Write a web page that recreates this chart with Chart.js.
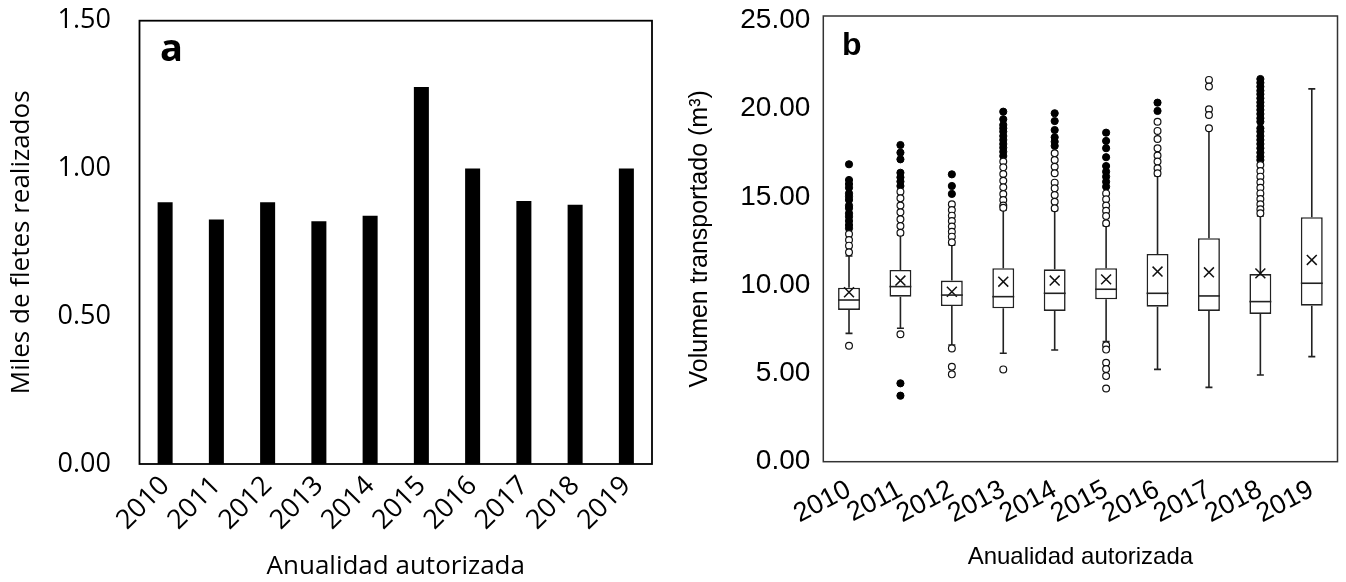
<!DOCTYPE html>
<html>
<head>
<meta charset="utf-8">
<script src="https://cdn.jsdelivr.net/npm/chart.js@4.4.1/dist/chart.umd.min.js"></script>
<style>
  html, body { margin: 0; padding: 0; background: #fff; }
  body { width: 1346px; height: 582px; position: relative; overflow: hidden; }
  canvas { position: absolute; top: 0; }
  #chart-a { left: 0; }
  #chart-b { left: 670px; }
</style>
</head>
<body>
<canvas id="chart-a" width="670" height="582"></canvas>
<canvas id="chart-b" width="676" height="582"></canvas>
<script>
const YEARS = ["2010", "2011", "2012", "2013", "2014", "2015", "2016", "2017", "2018", "2019"];

// panel a: thousands of trips
const TRIPS = [0.886, 0.827, 0.886, 0.821, 0.84, 1.276, 1.0, 0.89, 0.877, 1.0];
const TICKS_A = [0, 0.5, 1, 1.5];

// panel b: box plot stats per year (m3)
const WHISKER_LOW = [7.27, 7.56, 6.61, 6.14, 6.33, 6.8, 5.23, 4.21, 4.91, 5.95];
const Q1 = [8.6, 9.35, 8.82, 8.69, 8.54, 9.2, 8.78, 8.54, 8.37, 8.84];
const MEDIAN = [9.16, 9.92, 9.44, 9.35, 9.54, 9.77, 9.54, 9.39, 9.07, 10.11];
const Q3 = [9.86, 10.86, 10.26, 10.96, 10.9, 10.96, 11.77, 12.66, 10.63, 13.85];
const WHISKER_HIGH = [11.65, 12.85, 12.28, 14.26, 14.24, 13.37, 16.2, 18.83, 13.92, 21.12];
const MEAN = [9.6, 10.26, 9.63, 10.2, 10.26, 10.33, 10.77, 10.73, 10.67, 11.43];
const TICKS_B = [0, 5, 10, 15, 20, 25];

const OUTLIERS_OPEN = [
    [12.9, 12.56, 12.24, 11.86, 6.57],
    [15.3, 14.92, 14.51, 14.13, 13.73, 13.35, 12.97, 7.22],
    [14.58, 14.26, 13.94, 13.64, 13.32, 13.03, 12.75, 12.43, 6.42, 5.38, 4.95],
    [17.0, 16.68, 16.3, 15.92, 15.55, 15.17, 14.83, 14.51, 14.39, 5.23],
    [17.47, 17.09, 16.71, 16.34, 15.81, 15.49, 15.11, 14.73, 14.36],
    [15.2, 14.87, 14.51, 14.22, 13.92, 13.51, 6.6, 6.35, 5.6, 5.25, 4.85, 4.15],
    [19.26, 18.74, 18.28, 17.76, 17.34, 17.0, 16.62, 16.34],
    [21.63, 21.25, 19.97, 19.64, 18.89],
    [16.81, 16.47, 16.15, 15.83, 15.52, 15.2, 14.88, 14.58, 14.3, 14.07],
    [],
];
const OUTLIERS_FILLED = [
    [16.85, 15.96, 15.73, 15.52, 15.2, 15.02, 14.83, 14.51, 14.36, 14.07, 13.88, 13.64, 13.41, 13.22],
    [17.94, 17.51, 17.13, 16.37, 16.11, 15.87, 15.62, 4.44, 3.74],
    [16.28, 15.62, 15.17],
    [19.83, 19.4, 19.08, 18.89, 18.7, 18.45, 18.23, 18.0, 17.79, 17.56, 17.32],
    [19.74, 19.3, 18.79, 18.38, 18.13, 17.89],
    [18.64, 18.17, 17.76, 17.25, 16.75, 16.43, 16.15, 15.86, 15.58],
    [20.34, 19.87],
    [],
    [21.68, 21.47, 21.25, 21.02, 20.82, 20.59, 20.36, 20.15, 19.93, 19.7, 19.46, 19.26,
     18.89, 18.7, 18.45, 18.23, 18.0, 17.76, 17.51, 17.28, 17.09],
    [],
];

const FONT_A = "'Open Sans', 'Noto Sans', sans-serif";
const FONT_B = "'Liberation Sans', Arial, sans-serif";

// frame around plot area + panel letter
const framePlugin = {
    id: 'frame',
    afterDraw(chart, args, opts) {
        const {ctx, chartArea: a} = chart;
        ctx.save();
        ctx.strokeStyle = opts.color;
        ctx.lineWidth = opts.width;
        ctx.strokeRect(a.left, a.top, a.right - a.left, a.bottom - a.top);
        ctx.fillStyle = '#000';
        ctx.font = opts.font;
        ctx.textBaseline = 'alphabetic';
        ctx.fillText(opts.letter, a.left + opts.dx, a.top + opts.dy);
        ctx.restore();
    }
};

// whiskers + medians for the box plot
const whiskerPlugin = {
    id: 'whiskers',
    beforeDatasetsDraw(chart) {
        const {ctx, scales: {x, y}} = chart;
        ctx.save();
        ctx.strokeStyle = '#222';
        ctx.lineWidth = 1.6;
        YEARS.forEach((year, i) => {
            const px = x.getPixelForValue(i);
            ctx.beginPath();
            ctx.moveTo(px, y.getPixelForValue(Q3[i]));
            ctx.lineTo(px, y.getPixelForValue(WHISKER_HIGH[i]));
            ctx.moveTo(px, y.getPixelForValue(Q1[i]));
            ctx.lineTo(px, y.getPixelForValue(WHISKER_LOW[i]));
            ctx.moveTo(px - 3.5, y.getPixelForValue(WHISKER_HIGH[i]));
            ctx.lineTo(px + 3.5, y.getPixelForValue(WHISKER_HIGH[i]));
            ctx.moveTo(px - 3.5, y.getPixelForValue(WHISKER_LOW[i]));
            ctx.lineTo(px + 3.5, y.getPixelForValue(WHISKER_LOW[i]));
            ctx.stroke();
        });
        ctx.restore();
    },
    afterDatasetsDraw(chart) {
        const {ctx, scales: {x, y}} = chart;
        const half = x.width / YEARS.length * 0.426 / 2;
        ctx.save();
        ctx.strokeStyle = '#222';
        ctx.lineWidth = 1.6;
        YEARS.forEach((year, i) => {
            const px = x.getPixelForValue(i);
            const py = y.getPixelForValue(MEDIAN[i]);
            ctx.beginPath();
            ctx.moveTo(px - half, py);
            ctx.lineTo(px + half, py);
            ctx.stroke();
        });
        ctx.restore();
    }
};

// fixed axis sizes so the plot areas land where the reference has them
const fixX = h => scale => {
    scale.height = h;
    scale.paddingLeft = 0;
    scale.paddingRight = 0;
};
const fixY = w => scale => {
    scale.width = w;
    scale.paddingTop = 0;
    scale.paddingBottom = 0;
};

Chart.defaults.color = '#000';
Chart.defaults.animation = false;

new Chart(document.getElementById('chart-a'), {
    type: 'bar',
    data: {
        labels: YEARS,
        datasets: [{
            data: TRIPS,
            backgroundColor: '#000',
            categoryPercentage: 1,
            barPercentage: 0.293,
        }]
    },
    options: {
        responsive: false,
        devicePixelRatio: 1,
        layout: {padding: {top: 20.7, right: 18, left: 0, bottom: 0}},
        plugins: {
            legend: {display: false},
            tooltip: {enabled: false},
            frame: {color: '#000', width: 1.8, letter: 'a', font: `bold 38px ${FONT_A}`, dx: 20.5, dy: 40},
        },
        scales: {
            x: {
                grid: {display: false, drawTicks: false},
                border: {display: false},
                ticks: {font: {family: FONT_A, size: 27}, maxRotation: 45, minRotation: 45, autoSkip: false, padding: 6},
                title: {display: true, text: 'Anualidad autorizada', font: {family: FONT_A, size: 26, lineHeight: 1}, padding: {top: 0, bottom: 2}},
                afterFit: fixX(118),
            },
            y: {
                min: 0,
                max: 1.5,
                grid: {display: false, drawTicks: false},
                border: {display: false},
                afterBuildTicks(scale) { scale.ticks = TICKS_A.map(v => ({value: v})); },
                ticks: {font: {family: FONT_A, size: 27}, padding: 28.5, callback: v => v.toFixed(2)},
                title: {display: true, text: 'Miles de fletes realizados', font: {family: FONT_A, size: 26, lineHeight: 1}, padding: {top: 9, bottom: 0}},
                afterFit: fixY(139.5),
            }
        }
    },
    plugins: [framePlugin]
});

const pointsFrom = lists => lists.flatMap((vals, i) => vals.map(v => ({x: YEARS[i], y: v})));

new Chart(document.getElementById('chart-b'), {
    type: 'bar',
    data: {
        labels: YEARS,
        datasets: [
            {
                type: 'scatter',
                data: MEAN.map((v, i) => ({x: YEARS[i], y: v})),
                pointStyle: 'crossRot',
                pointRadius: 7,
                borderColor: '#111',
                borderWidth: 1.5,
                order: 0,
            },
            {
                type: 'scatter',
                data: pointsFrom(OUTLIERS_OPEN),
                pointStyle: 'circle',
                pointRadius: 3.4,
                backgroundColor: '#fff',
                borderColor: '#111',
                borderWidth: 1.2,
                order: 1,
            },
            {
                type: 'scatter',
                data: pointsFrom(OUTLIERS_FILLED),
                pointStyle: 'circle',
                pointRadius: 3.6,
                backgroundColor: '#000',
                borderColor: '#000',
                borderWidth: 1,
                order: 1,
            },
            {
                data: Q1.map((v, i) => [v, Q3[i]]),
                backgroundColor: '#fff',
                borderColor: '#222',
                borderWidth: 1.6,
                borderSkipped: false,
                categoryPercentage: 1,
                barPercentage: 0.426,
                order: 2,
            }
        ]
    },
    options: {
        responsive: false,
        devicePixelRatio: 1,
        layout: {padding: {top: 16, right: 5, left: 0, bottom: 0}},
        plugins: {
            legend: {display: false},
            tooltip: {enabled: false},
            frame: {color: '#333', width: 1.5, letter: 'b', font: `bold 32px ${FONT_B}`, dx: 18.7, dy: 39},
        },
        scales: {
            x: {
                type: 'category',
                grid: {display: false, drawTicks: false},
                border: {display: false},
                ticks: {font: {family: FONT_B, size: 27}, maxRotation: 28, minRotation: 28, autoSkip: false, padding: 12},
                title: {display: true, text: 'Anualidad autorizada', font: {family: FONT_B, size: 24, lineHeight: 1}, padding: {top: 0, bottom: 13}},
                afterFit: fixX(120.3),
            },
            y: {
                min: 0,
                max: 25.25,
                grid: {display: false, drawTicks: false},
                border: {display: false},
                afterBuildTicks(scale) { scale.ticks = TICKS_B.map(v => ({value: v})); },
                ticks: {font: {family: FONT_B, size: 28}, padding: 13, callback: v => v.toFixed(2)},
                title: {display: true, text: 'Volumen transportado (m³)', font: {family: FONT_B, size: 25, lineHeight: 1}, padding: {top: 18, bottom: 0}},
                afterFit: fixY(153.3),
            }
        }
    },
    plugins: [framePlugin, whiskerPlugin]
});
</script>
</body>
</html>
